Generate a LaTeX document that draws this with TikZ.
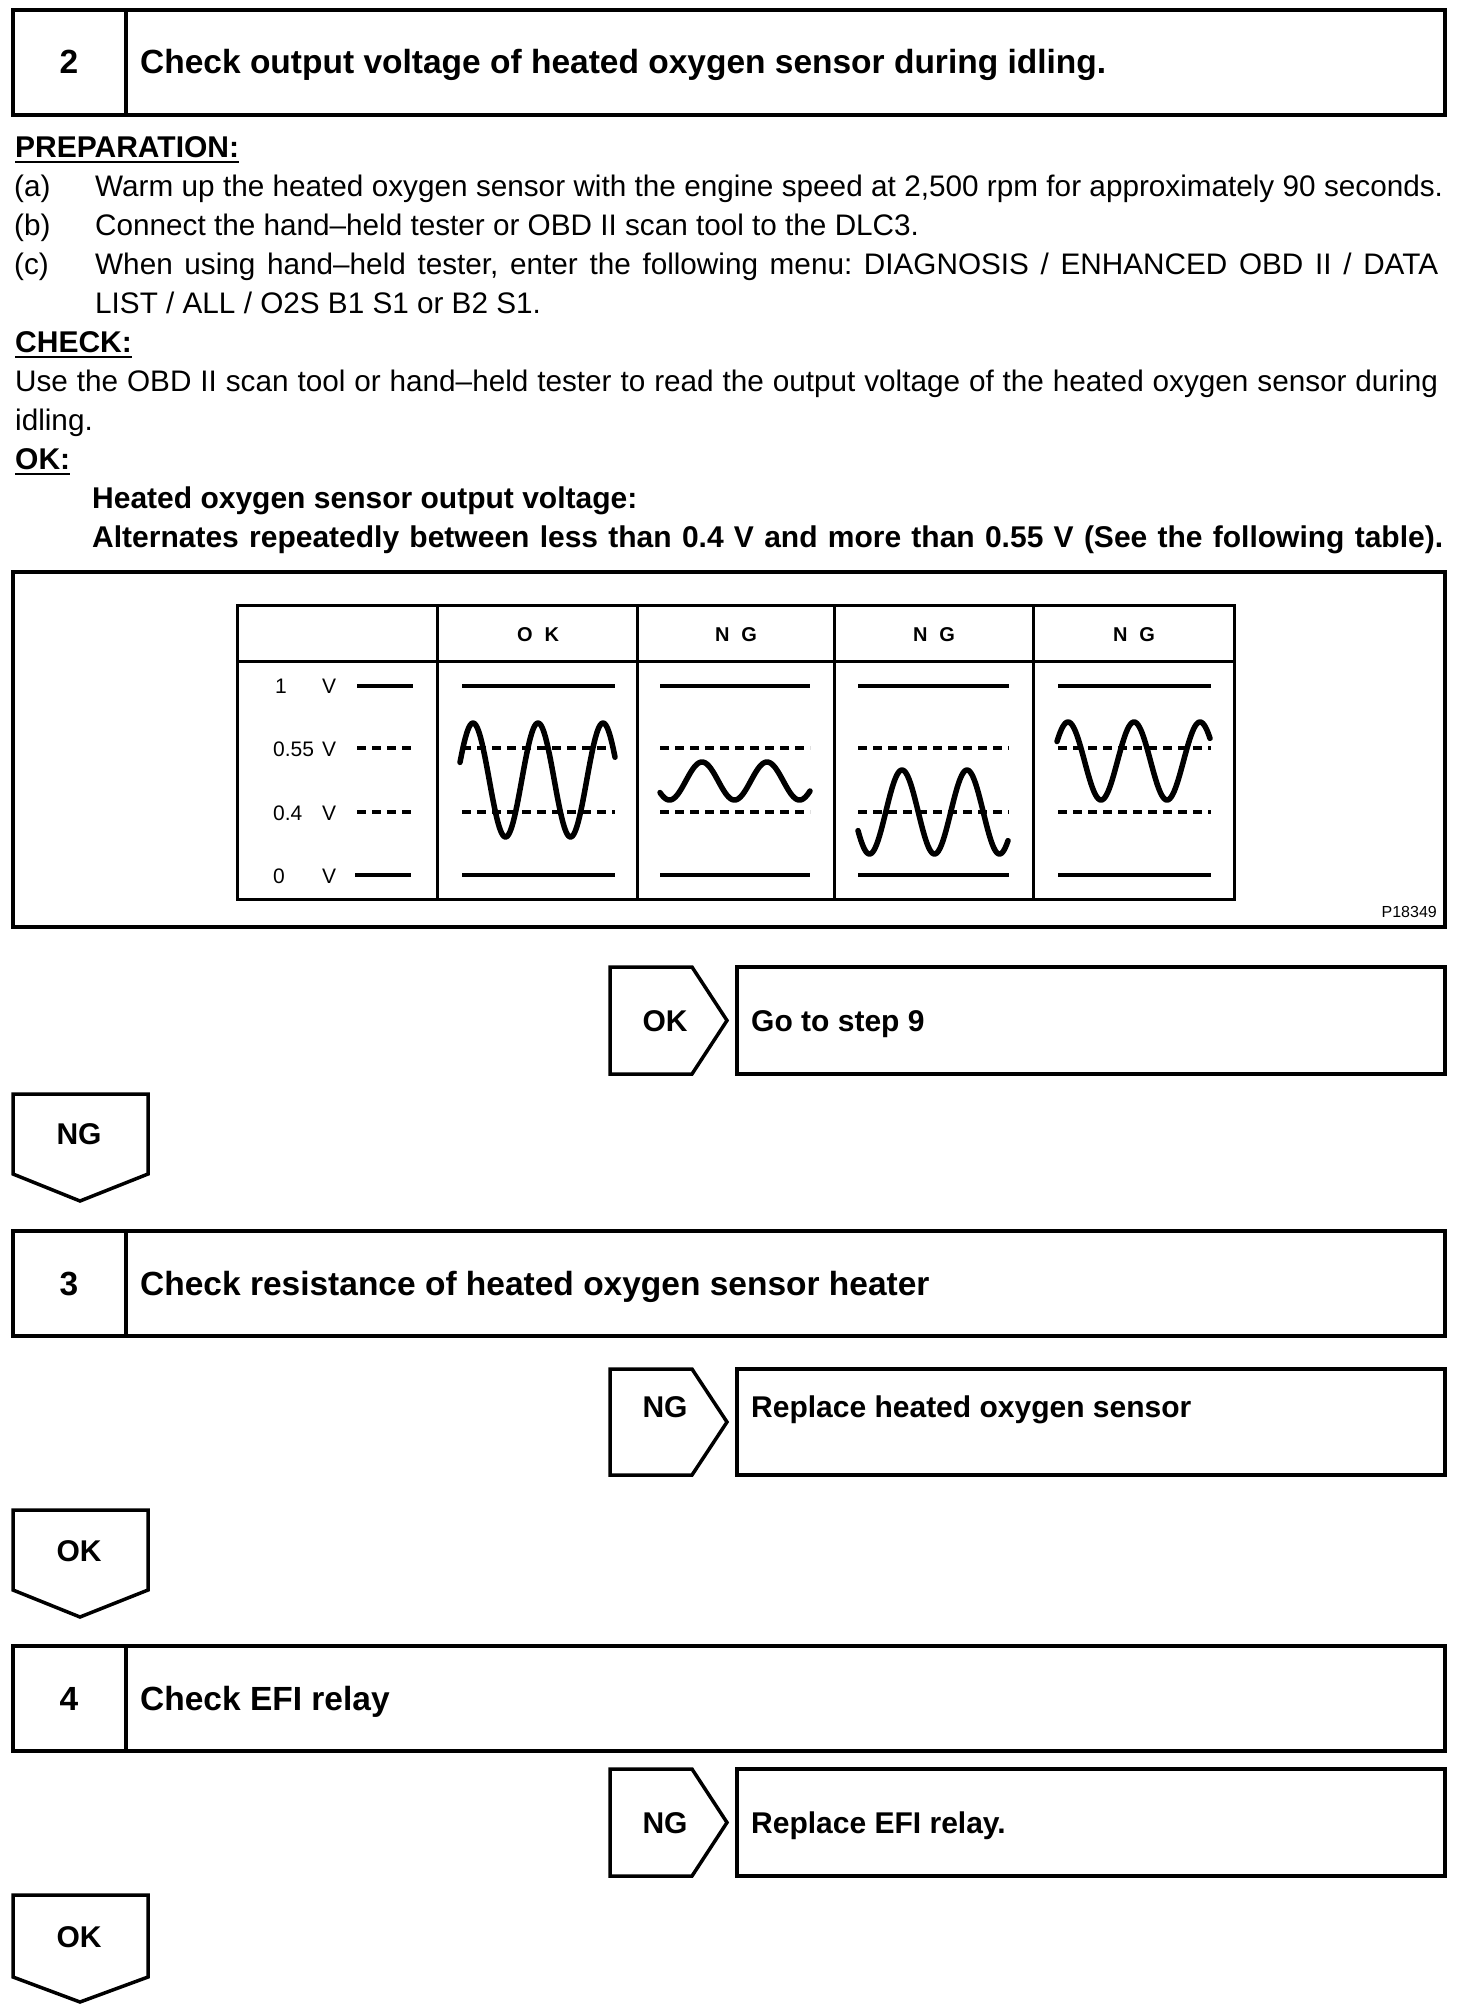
\documentclass[tikz,border=0pt]{standalone}
\usepackage{fontspec}
\setmainfont{Liberation Sans}
\frenchspacing

\begin{document}
\begin{tikzpicture}[x=1pt, y=-1pt, font=\fontsize{29.7}{36}\selectfont,
    txt/.style={anchor=base west, inner sep=0pt},
    bold/.style={txt, font=\fontsize{30}{36}\selectfont\bfseries},
    head/.style={txt, font=\fontsize{33.5}{40}\selectfont\bfseries},
    lab/.style={txt, font=\fontsize{21}{24}\selectfont},
    colhead/.style={txt, anchor=base, font=\fontsize{20}{24}\selectfont\bfseries},
    frame/.style={draw, line width=3.5pt},
    tbl/.style={draw, line width=3pt},
    ref/.style={draw, line width=3.5pt},
    refdash/.style={ref, dash pattern=on 9pt off 6pt},
    wave/.style={draw, line width=5.5pt, line join=round, line cap=round},
    uline/.style={line width=2.5pt}
]
    \useasboundingbox (0,0) rectangle (1472,2010);

    % step 2
    \draw[frame] (13,10) rectangle (1445,115);
    \draw[frame] (126,10) -- (126,115);
    \node[head, anchor=base] (n2) at (69,74) {2};
    \node[head] (t2) at (140,74) {Check output voltage of heated oxygen sensor during idling.};

    \node[bold] (prep) at (15,157) {PREPARATION:};
    \draw[uline] ([yshift=-5pt]prep.base west) -- ([yshift=-5pt]prep.base east);
    \node[txt] (ia) at (14,196) {(a)};
    \node[txt] (ta) at (95,196) {\makebox[1348pt][s]{Warm up the heated oxygen sensor with the engine speed at 2,500 rpm for approximately 90 seconds.}};
    \node[txt] (ib) at (14,235) {(b)};
    \node[txt] (tb) at (95,235) {Connect the hand–held tester or OBD II scan tool to the DLC3.};
    \node[txt] (ic) at (14,274) {(c)};
    \node[txt] (tc) at (95,274) {\makebox[1343pt][s]{When using hand–held tester, enter the following menu: DIAGNOSIS / ENHANCED OBD II / DATA}};
    \node[txt] (tc2) at (95,313) {LIST / ALL / O2S B1 S1 or B2 S1.};
    \node[bold] (chk) at (15,352) {CHECK:};
    \draw[uline] ([yshift=-5pt]chk.base west) -- ([yshift=-5pt]chk.base east);
    \node[txt] (use) at (15,391) {\makebox[1423pt][s]{Use the OBD II scan tool or hand–held tester to read the output voltage of the heated oxygen sensor during}};
    \node[txt] (use2) at (15,430) {idling.};
    \node[bold] (okh) at (15,469) {OK:};
    \draw[uline] ([yshift=-5pt]okh.base west) -- ([yshift=-5pt]okh.base east);
    \node[bold] (spec1) at (92,508) {Heated oxygen sensor output voltage:};
    \node[bold] (spec2) at (92,547) {\makebox[1351pt][s]{Alternates repeatedly between less than 0.4 V and more than 0.55 V (See the following table).}};

    % voltage table
    \draw[frame] (13,572) rectangle (1445,927);
    \node[txt, anchor=base east, font=\fontsize{16}{18}\selectfont] (fig) at (1437,917) {P18349};
    \draw[tbl] (237,605) rectangle (1234,899);
    \draw[tbl] (237,661) -- (1234,661);
    \draw[tbl] (437,605) -- (437,899) (637,605) -- (637,899) (834,605) -- (834,899) (1033,605) -- (1033,899);

    \node[colhead] (hok) at (538,641) {O\hspace{12pt}K};
    \node[colhead] (hng1) at (736,641) {N\hspace{12pt}G};
    \node[colhead] (hng2) at (934,641) {N\hspace{12pt}G};
    \node[colhead] (hng3) at (1134,641) {N\hspace{12pt}G};

    \node[lab] (l1) at (275,693) {1};
    \node[lab, anchor=base] (u1) at (329,693) {V};
    \node[lab] (l2) at (273,756) {0.55};
    \node[lab, anchor=base] (u2) at (329,756) {V};
    \node[lab] (l3) at (273,820) {0.4};
    \node[lab, anchor=base] (u3) at (329,820) {V};
    \node[lab] (l4) at (273,883) {0};
    \node[lab, anchor=base] (u4) at (329,883) {V};
    \draw[ref] (357,686) -- (413,686);
    \draw[refdash] (357,748) -- (413,748);
    \draw[refdash] (357,812) -- (413,812);
    \draw[ref] (355,875) -- (411,875);

    \foreach \a/\b in {462/615, 660/810, 858/1009, 1058/1211} {
        \draw[ref] (\a,686) -- (\b,686);
        \draw[refdash] (\a,748) -- (\b,748);
        \draw[refdash] (\a,812) -- (\b,812);
        \draw[ref] (\a,875) -- (\b,875);
    }

    \draw[wave] plot[domain=460:615, samples=150] (\x, {780-57*cos((\x-473)/65*360)});
    \draw[wave] plot[domain=660:810, samples=150] (\x, {781-19*cos((\x-702)/65*360)});
    \draw[wave] plot[domain=858:1008, samples=150] (\x, {812-42*cos((\x-902)/65*360)});
    \draw[wave] plot[domain=1057:1210, samples=150] (\x, {761-39*cos((\x-1068)/66*360)});

    % OK -> step 9
    \draw[frame] (610,967) -- (692,967) -- (727,1020.5) -- (692,1074) -- (610,1074) -- cycle;
    \draw[frame] (737,967) rectangle (1445,1074);
    \node[bold, anchor=base] (ok1) at (665,1031) {OK};
    \node[bold] (go9) at (751,1031) {Go to step 9};

    \draw[frame] (13,1094) -- (148,1094) -- (148,1174) -- (80,1201) -- (13,1174) -- cycle;
    \node[bold, anchor=base] (ng1) at (79,1144) {NG};

    % step 3
    \draw[frame] (13,1231) rectangle (1445,1336);
    \draw[frame] (126,1231) -- (126,1336);
    \node[head, anchor=base] (n3) at (69,1295) {3};
    \node[head] (t3) at (140,1295) {Check resistance of heated oxygen sensor heater};

    \draw[frame] (610,1369) -- (692,1369) -- (727,1422) -- (692,1475) -- (610,1475) -- cycle;
    \draw[frame] (737,1369) rectangle (1445,1475);
    \node[bold, anchor=base] (ng2) at (665,1417) {NG};
    \node[bold] (rep1) at (751,1417) {Replace heated oxygen sensor};

    \draw[frame] (13,1510) -- (148,1510) -- (148,1590) -- (80,1617) -- (13,1590) -- cycle;
    \node[bold, anchor=base] (ok2) at (79,1561) {OK};

    % step 4
    \draw[frame] (13,1646) rectangle (1445,1751);
    \draw[frame] (126,1646) -- (126,1751);
    \node[head, anchor=base] (n4) at (69,1710) {4};
    \node[head] (t4) at (140,1710) {Check EFI relay};

    \draw[frame] (610,1769) -- (692,1769) -- (727,1822.5) -- (692,1876) -- (610,1876) -- cycle;
    \draw[frame] (737,1769) rectangle (1445,1876);
    \node[bold, anchor=base] (ng3) at (665,1833) {NG};
    \node[bold] (rep2) at (751,1833) {Replace EFI relay.};

    \draw[frame] (13,1895) -- (148,1895) -- (148,1977) -- (80,2002) -- (13,1977) -- cycle;
    \node[bold, anchor=base] (ok3) at (79,1947) {OK};
\end{tikzpicture}
\end{document}
